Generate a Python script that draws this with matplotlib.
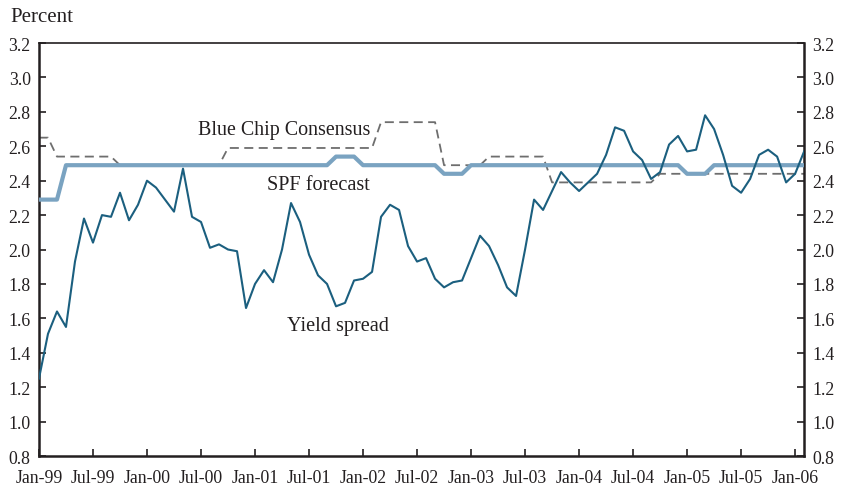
import matplotlib.pyplot as plt

# monthly data, Jan-99 .. Feb-06
yield_spread = [
    1.25, 1.51, 1.64, 1.55, 1.93, 2.18, 2.04, 2.20, 2.19, 2.33, 2.17, 2.26,
    2.40, 2.36, 2.29, 2.22, 2.47, 2.19, 2.16, 2.01, 2.03, 2.00, 1.99, 1.66,
    1.80, 1.88, 1.81, 2.00, 2.27, 2.16, 1.97, 1.85, 1.80, 1.67, 1.69, 1.82,
    1.83, 1.87, 2.19, 2.26, 2.23, 2.02, 1.93, 1.95, 1.83, 1.78, 1.81, 1.82,
    1.95, 2.08, 2.02, 1.91, 1.78, 1.73, 2.00, 2.29, 2.23, 2.34, 2.45, 2.39,
    2.34, 2.39, 2.44, 2.55, 2.71, 2.69, 2.57, 2.52, 2.41, 2.45, 2.61, 2.66,
    2.57, 2.58, 2.78, 2.70, 2.55, 2.37, 2.33, 2.41, 2.55, 2.58, 2.54, 2.39,
    2.44, 2.57,
]
spf_forecast = [
    2.29, 2.29, 2.29, 2.49, 2.49, 2.49, 2.49, 2.49, 2.49, 2.49, 2.49, 2.49,
    2.49, 2.49, 2.49, 2.49, 2.49, 2.49, 2.49, 2.49, 2.49, 2.49, 2.49, 2.49,
    2.49, 2.49, 2.49, 2.49, 2.49, 2.49, 2.49, 2.49, 2.49, 2.54, 2.54, 2.54,
    2.49, 2.49, 2.49, 2.49, 2.49, 2.49, 2.49, 2.49, 2.49, 2.44, 2.44, 2.44,
    2.49, 2.49, 2.49, 2.49, 2.49, 2.49, 2.49, 2.49, 2.49, 2.49, 2.49, 2.49,
    2.49, 2.49, 2.49, 2.49, 2.49, 2.49, 2.49, 2.49, 2.49, 2.49, 2.49, 2.49,
    2.44, 2.44, 2.44, 2.49, 2.49, 2.49, 2.49, 2.49, 2.49, 2.49, 2.49, 2.49,
    2.49, 2.49,
]
blue_chip = [
    2.65, 2.65, 2.54, 2.54, 2.54, 2.54, 2.54, 2.54, 2.54, 2.49, 2.49, 2.49,
    2.49, 2.49, 2.49, 2.49, 2.49, 2.49, 2.49, 2.49, 2.49, 2.59, 2.59, 2.59,
    2.59, 2.59, 2.59, 2.59, 2.59, 2.59, 2.59, 2.59, 2.59, 2.59, 2.59, 2.59,
    2.59, 2.59, 2.74, 2.74, 2.74, 2.74, 2.74, 2.74, 2.74, 2.49, 2.49, 2.49,
    2.49, 2.49, 2.54, 2.54, 2.54, 2.54, 2.54, 2.54, 2.54, 2.39, 2.39, 2.39,
    2.39, 2.39, 2.39, 2.39, 2.39, 2.39, 2.39, 2.39, 2.39, 2.44, 2.44, 2.44,
    2.44, 2.44, 2.44, 2.44, 2.44, 2.44, 2.44, 2.44, 2.44, 2.44, 2.44, 2.44,
    2.44, 2.44,
]
tick_labels = ['Jan-99', 'Jul-99', 'Jan-00', 'Jul-00', 'Jan-01', 'Jul-01', 'Jan-02', 'Jul-02',
               'Jan-03', 'Jul-03', 'Jan-04', 'Jul-04', 'Jan-05', 'Jul-05', 'Jan-06']

plt.rcParams['font.family'] = ['Liberation Serif', 'DejaVu Serif']
ink = '#231f20'

months = list(range(len(yield_spread)))

fig = plt.figure(figsize=(8.42, 4.89), dpi=100)
ax = fig.add_axes([0.0463, 0.0654, 0.9087, 0.8446])

ax.plot(months, blue_chip, color='#6e6e6e', lw=1.3, dashes=(5, 3), zorder=2)
ax.plot(months, spf_forecast, color='#7aa3c1', lw=3.0, zorder=3)
ax.plot(months, yield_spread, color='#1b5f7f', lw=1.5, zorder=4)

ax.set_xlim(0, len(months) - 1)
ax.set_ylim(0.8, 3.2)
ax.set_yticks([0.8 + 0.2 * k for k in range(13)])
ax.set_yticklabels([f'{0.8 + 0.2 * k:.1f}' for k in range(13)])
ax.set_xticks(range(0, 6 * len(tick_labels), 6))
ax.set_xticklabels(tick_labels)

ax.tick_params(axis='x', direction='in', length=5, width=1.2, color=ink,
               labelsize=12.8, labelcolor=ink, pad=9)
ax.tick_params(axis='y', direction='in', length=5, width=1.2, color=ink,
               labelsize=12.8, labelcolor=ink, left=True, right=True,
               labelleft=True, labelright=True, pad=6)
for s in ax.spines.values():
    s.set_color(ink)
    s.set_linewidth(1.8)
ax.spines['top'].set_linewidth(1.2)

ax.text(27.2, 2.70, 'Blue Chip Consensus', ha='center', va='center',
        fontsize=14.4, color=ink)
ax.text(31.0, 2.375, 'SPF forecast', ha='center', va='center',
        fontsize=14.6, color=ink)
ax.text(33.2, 1.56, 'Yield spread', ha='center', va='center',
        fontsize=14.6, color=ink)

fig.text(0.012, 0.965, 'Percent', ha='left', va='center', fontsize=15, color=ink)

fig.savefig('out.png', dpi=100)
